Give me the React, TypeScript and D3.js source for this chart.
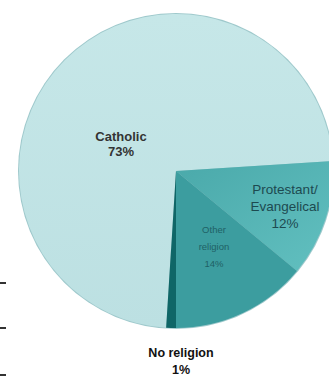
import React from "react";
import * as d3 from "d3";

const categories = ["Catholic", "Protestant/ Evangelical", "Other religion", "No religion"];
const shares = [73, 12, 14, 1];
const labelLines = [["Catholic", "73%"], ["Protestant/", "Evangelical", "12%"], ["Other", "religion", "14%"], ["No religion", "1%"]];
const tickYs = [283, 328, 375];

const colors = ["#bfe3e5", "#58b6b7", "#3c9d9f", "#0f6667"];
const textColors = ["#333", "#1d4a50", "#1f6166", "#111"];
const fontSizes = [13, 13.5, 9.5, 12.5];
const lineGaps = [15, 17, 17, 17];
const weights = [600, 500, 500, 600];
// label centres relative to pie centre
const labelOffsets = [[-55, -27], [109, 35], [38, 76], [5, 190]];

export default function App() {
  const W = 329, H = 379;
  const cx = 176, cy = 171, r = 157;
  const pie = d3.pie<number>().sort(null).value((d) => d)
    .startAngle(Math.PI + 2 * Math.PI * 0.01)
    .endAngle(3 * Math.PI + 2 * Math.PI * 0.01);
  const arcs = pie(shares);
  const arc = d3.arc<d3.PieArcDatum<number>>().innerRadius(0).outerRadius(r);
  return (
    <svg width={W} height={H} style={{ position: "absolute", left: 0, top: 0, background: "#fff" }}
      fontFamily="'Liberation Sans', Arial, sans-serif">
      <defs>
        <linearGradient id="g0" x1="0" y1="0" x2="0" y2="1">
          <stop offset="0" stopColor="#c6e7e8" />
          <stop offset="1" stopColor="#bce0e2" />
        </linearGradient>
        <linearGradient id="g1" x1="0" y1="0" x2="1" y2="1">
          <stop offset="0" stopColor="#4aa9aa" />
          <stop offset="1" stopColor="#62c0c0" />
        </linearGradient>
      </defs>
      <g transform={`translate(${cx},${cy})`}>
        <circle r={r + 1} fill="#9fc9cc" />
        {arcs.map((a, i) => (
          <path key={categories[i]} d={arc(a) || ""}
            fill={i === 0 ? "url(#g0)" : i === 1 ? "url(#g1)" : colors[i]} />
        ))}
        {labelLines.map((lines, i) => {
          const [ox, oy] = labelOffsets[i];
          const n = lines.length;
          return (
            <text key={i} textAnchor="middle" fill={textColors[i]} fontSize={fontSizes[i]} fontWeight={weights[i]}>
              {lines.map((l, j) => (
                <tspan key={j} x={ox} y={oy + (j - (n - 1) / 2) * lineGaps[i] + fontSizes[i] * 0.35}>{l}</tspan>
              ))}
            </text>
          );
        })}
      </g>
      {tickYs.map((y) => (
        <line key={y} x1={0} x2={6} y1={y} y2={y} stroke="#333" strokeWidth={2} />
      ))}
    </svg>
  );
}
